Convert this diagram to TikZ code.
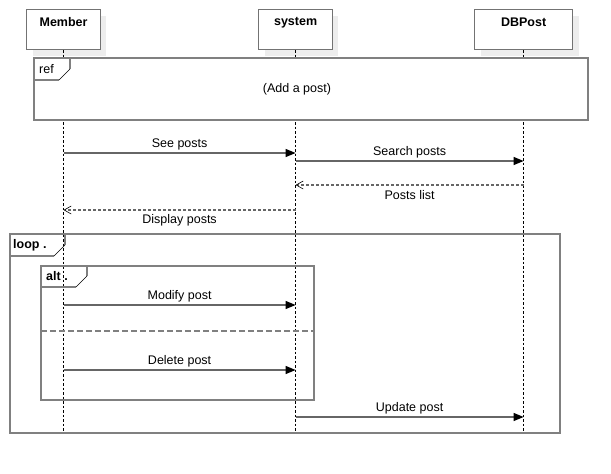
\documentclass[tikz,border=0pt]{standalone}
\usepackage{fontspec}
\setmainfont{Liberation Sans}
\usetikzlibrary{arrows.meta}
\begin{document}
\begin{tikzpicture}[x=1pt,y=-1pt,
  every node/.style={font=\fontsize{12.5}{14}\selectfont},
  headbox/.style={draw=black!55,line width=1.2pt,fill=white,anchor=north west,inner sep=0pt},
  headtext/.style={font=\fontsize{12.5}{14}\selectfont\bfseries,anchor=north,inner sep=0pt},
  shadowbox/.style={fill=black!7},
  lifeline/.style={draw=black,line width=0.7pt,dash pattern=on 2.5pt off 2pt},
  frameline/.style={draw=black!50,line width=1.3pt},
  cutline/.style={draw=black,line width=0.5pt},
  tabtext/.style={anchor=west,inner sep=0pt,font=\fontsize{12.5}{14}\selectfont\bfseries},
  msg/.style={draw=black!60,line width=1.2pt,-{Triangle[length=10pt,width=8pt,fill=black,color=black]}},
  reply/.style={draw=black!60,line width=1.1pt,dash pattern=on 3pt off 2pt,-{Straight Barb[length=7pt,width=8pt,line width=0.6pt,color=black]}},
  lbl/.style={inner sep=0pt}
]
\useasboundingbox (0,0) rectangle (611,474);

% shadows
\fill[shadowbox] (33,16) rectangle (106,56);
\fill[shadowbox] (265,16) rectangle (338,56);
\fill[shadowbox] (481,16) rectangle (579,56);

% heads
\node[headbox,minimum width=74pt,minimum height=40pt] (mem) at (26,9) {};
\node[headtext] (memt) at ([yshift=-8.5pt]mem.north) {Member};
\node[headbox,minimum width=74pt,minimum height=40pt] (sys) at (258,9) {};
\node[headtext] (syst) at ([yshift=-8.5pt]sys.north) {system};
\node[headbox,minimum width=98pt,minimum height=40pt] (db) at (474,9) {};
\node[headtext] (dbt) at ([yshift=-8.5pt]db.north) {DBPost};

% lifeline ends
\coordinate (memend) at (mem.south |- 0,431);
\coordinate (sysend) at (sys.south |- 0,431);
\coordinate (dbend) at (db.south |- 0,431);
\draw[lifeline] (mem.south) -- (memend);
\draw[lifeline] (sys.south) -- (sysend);
\draw[lifeline] (db.south) -- (dbend);

% ref frame
\draw[frameline,fill=white] (34,58) rectangle (588,120);
\draw[frameline] (34,80) -- (59,80);
\draw[frameline] (70,58) -- (70,69);
\draw[cutline] (59,80) -- (70,69);
\node[anchor=west,inner sep=0pt] (reft) at (39,69) {ref};
\node[inner sep=0pt] (refc) at (297,89.5) {(Add a post)};

% messages
\coordinate (m1a) at (mem.south |- 0,153);
\coordinate (m1b) at (sys.south |- 0,153);
\draw[msg] (m1a) -- node[lbl,above=2.5pt] (l1) {See posts} (m1b);

\coordinate (m2a) at (sys.south |- 0,161);
\coordinate (m2b) at (db.south |- 0,161);
\draw[msg] (m2a) -- node[lbl,above=2.5pt] (l2) {Search posts} (m2b);

\coordinate (m3a) at (db.south |- 0,185);
\coordinate (m3b) at (sys.south |- 0,185);
\draw[reply] (m3a) -- node[lbl,below=5pt] (l3) {Posts list} (m3b);

\coordinate (m4a) at (sys.south |- 0,210);
\coordinate (m4b) at (mem.south |- 0,210);
\draw[reply] (m4a) -- node[lbl,below=3.5pt] (l4) {Display posts} (m4b);

% loop frame
\draw[frameline] (10,234) rectangle (560,433);
\draw[frameline] (10,256) -- (54,256);
\draw[frameline] (65,234) -- (65,245);
\draw[cutline] (54,256) -- (65,245);
\node[tabtext] (loopt) at (13,245) {loop .};

% alt frame
\draw[frameline] (41,266) rectangle (314,400);
\draw[frameline] (41,287) -- (76,287);
\draw[frameline] (87,266) -- (87,276);
\draw[cutline] (76,287) -- (87,276);
\node[tabtext] (altt) at (46,276.5) {alt .};
\draw[frameline,dash pattern=on 6pt off 3pt] (41,331) -- (314,331);

\coordinate (m5a) at (mem.south |- 0,305);
\coordinate (m5b) at (sys.south |- 0,305);
\draw[msg] (m5a) -- node[lbl,above=2.5pt] (l5) {Modify post} (m5b);

\coordinate (m6a) at (mem.south |- 0,370);
\coordinate (m6b) at (sys.south |- 0,370);
\draw[msg] (m6a) -- node[lbl,above=2.5pt] (l6) {Delete post} (m6b);

\coordinate (m7a) at (sys.south |- 0,417);
\coordinate (m7b) at (db.south |- 0,417);
\draw[msg] (m7a) -- node[lbl,above=2.5pt] (l7) {Update post} (m7b);
\end{tikzpicture}
\end{document}
